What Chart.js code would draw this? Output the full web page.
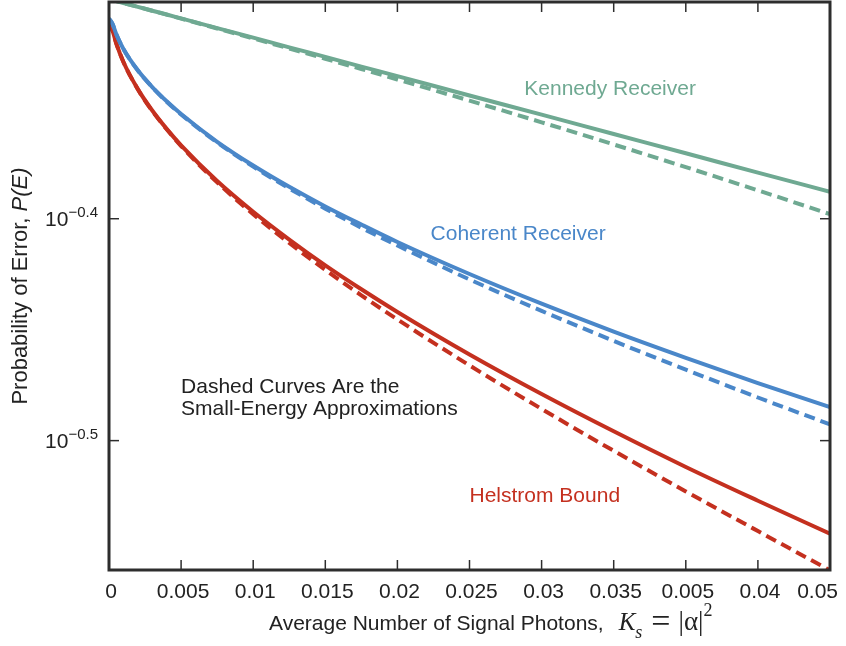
<!DOCTYPE html>
<html>
<head>
<meta charset="utf-8">
<script src="https://cdn.jsdelivr.net/npm/chart.js@4.4.1/dist/chart.umd.min.js"></script>
<style>
  body { margin: 0; background: #fff; }
  canvas { display: block; }
</style>
</head>
<body>
<canvas id="perr" width="846" height="646"></canvas>
<script>
// average photon number K_s
var kValues = [0, 0.00025, 0.0005, 0.001, 0.002, 0.003, 0.004, 0.005, 0.0075, 0.01, 0.0125,
  0.015, 0.0175, 0.02, 0.025, 0.03, 0.035, 0.04, 0.045, 0.05];

// probability of error
var helstromExact  = [0.488, 0.4838, 0.4777, 0.4684, 0.4554, 0.4454, 0.4370, 0.4296, 0.4140, 0.4010, 0.3896,
  0.3793, 0.3700, 0.3614, 0.3458, 0.3319, 0.3193, 0.3077, 0.2971, 0.2871];
var helstromApprox = [0.488, 0.4838, 0.4776, 0.4684, 0.4553, 0.4452, 0.4368, 0.4293, 0.4134, 0.4000, 0.3882,
  0.3775, 0.3677, 0.3586, 0.3419, 0.3268, 0.3129, 0.3000, 0.2879, 0.2764];
var coherentExact  = [0.490, 0.4872, 0.4822, 0.4748, 0.4644, 0.4564, 0.4497, 0.4438, 0.4312, 0.4207, 0.4115,
  0.4032, 0.3957, 0.3886, 0.3759, 0.3645, 0.3541, 0.3446, 0.3357, 0.3274];
var coherentApprox = [0.490, 0.4872, 0.4822, 0.4748, 0.4643, 0.4563, 0.4495, 0.4436, 0.4309, 0.4202, 0.4108,
  0.4023, 0.3944, 0.3872, 0.3738, 0.3618, 0.3507, 0.3404, 0.3307, 0.3216];
var kennedyExact   = [0.5, 0.4995, 0.4990, 0.4980, 0.4960, 0.4940, 0.4921, 0.4901, 0.4852, 0.4804, 0.4756,
  0.4709, 0.4662, 0.4616, 0.4524, 0.4435, 0.4347, 0.4261, 0.4176, 0.4094];
var kennedyApprox  = [0.5, 0.4995, 0.499, 0.498, 0.496, 0.494, 0.492, 0.49, 0.485, 0.48, 0.475,
  0.47, 0.465, 0.46, 0.45, 0.44, 0.43, 0.42, 0.41, 0.40];

// axis ticks (labels kept exactly as printed)
var xTickValues = [0, 0.005, 0.01, 0.015, 0.02, 0.025, 0.03, 0.035, 0.04, 0.045, 0.05];
var xTickLabels = ['0', '0.005', '0.01', '0.015', '0.02', '0.025', '0.03', '0.035', '0.005', '0.04', '0.05'];
var yTickValues = [Math.pow(10, -0.4), Math.pow(10, -0.5)];
var yTickExponents = ['\u22120.4', '\u22120.5'];

// curve labels: [text, x, y, colour]
var curveNotes = [
  ['Kennedy Receiver', 0.0288, 0.4553, '#6fa992'],
  ['Coherent Receiver', 0.0223, 0.3917, '#4a87c9'],
  ['Dashed Curves Are the', 0.005, 0.3343, '#222222'],
  ['Small-Energy Approximations', 0.005, 0.3268, '#222222'],
  ['Helstrom Bound', 0.0250, 0.2986, '#c4301f']
];

var SANS = '"Liberation Sans", Arial, Helvetica, sans-serif';
var SERIF = '"Liberation Serif", "Times New Roman", serif';
var INK = '#222222';

function pairs(ys)
{
  return kValues.map(function (k, i) { return {x: k, y: ys[i]}; });
}

function curve(label, ys, colour, dashed)
{
  return {
    label: label,
    data: pairs(ys),
    borderColor: colour,
    backgroundColor: colour,
    borderWidth: 4,
    borderDash: dashed ? [11, 6] : [],
    pointRadius: 0,
    cubicInterpolationMode: 'monotone',
    fill: false
  };
}

function line(ctx, x1, y1, x2, y2)
{
  ctx.beginPath();
  ctx.moveTo(x1, y1);
  ctx.lineTo(x2, y2);
  ctx.stroke();
}

var paperPlugin = {
  id: 'paper',
  afterDatasetsDraw: function (chart) {
    var ctx = chart.ctx, a = chart.chartArea;
    var xs = chart.scales.x, ys = chart.scales.y;
    ctx.save();

    // frame
    ctx.strokeStyle = '#2d2d2d';
    ctx.lineWidth = 3;
    ctx.strokeRect(a.left, a.top, a.right - a.left, a.bottom - a.top);

    // inward ticks
    ctx.lineWidth = 1.5;
    xTickValues.forEach(function (v) {
      var px = xs.getPixelForValue(v);
      line(ctx, px, a.bottom, px, a.bottom - 10);
      line(ctx, px, a.top, px, a.top + 10);
    });
    yTickValues.forEach(function (v) {
      var py = ys.getPixelForValue(v);
      line(ctx, a.left, py, a.left + 10, py);
      line(ctx, a.right, py, a.right - 10, py);
    });

    // x tick labels
    ctx.fillStyle = INK;
    ctx.font = '21px ' + SANS;
    ctx.textBaseline = 'alphabetic';
    ctx.textAlign = 'center';
    xTickValues.forEach(function (v, i) {
      var px = xs.getPixelForValue(v) + 2;
      var w = ctx.measureText(xTickLabels[i]).width;
      if (px + w / 2 > chart.width - 8) px = chart.width - 8 - w / 2;
      ctx.fillText(xTickLabels[i], px, a.bottom + 28);
    });

    // y tick labels 10^-x
    ctx.textAlign = 'left';
    yTickValues.forEach(function (v, i) {
      var py = ys.getPixelForValue(v);
      ctx.font = '15px ' + SANS;
      var sw = ctx.measureText(yTickExponents[i]).width;
      ctx.font = '21px ' + SANS;
      var bw = ctx.measureText('10').width;
      var x0 = a.left - 11 - sw - bw;
      ctx.fillText('10', x0, py + 7);
      ctx.font = '15px ' + SANS;
      ctx.fillText(yTickExponents[i], x0 + bw, py - 2);
    });

    // y axis title
    ctx.save();
    ctx.translate(21, (a.top + a.bottom) / 2);
    ctx.rotate(-Math.PI / 2);
    ctx.textBaseline = 'middle';
    ctx.font = '22px ' + SANS;
    var t1 = 'Probability of Error, ';
    var w1 = ctx.measureText(t1).width;
    ctx.font = 'italic 22px ' + SANS;
    var w2 = ctx.measureText('P(E)').width;
    var sx = -(w1 + w2) / 2;
    ctx.font = '22px ' + SANS;
    ctx.fillText(t1, sx, 0);
    ctx.font = 'italic 22px ' + SANS;
    ctx.fillText('P(E)', sx + w1, 0);
    ctx.restore();

    // x axis title with K_s = |alpha|^2  [text, font, dy, gap after]
    var parts = [
      ['Average Number of Signal Photons,', '21px ' + SANS, 0, 15],
      ['K', 'italic 25px ' + SERIF, 0, 0],
      ['s', 'italic 18px ' + SERIF, 8, 9],
      ['=', '34px ' + SERIF, 2, 8],
      ['|\u03b1|', '27px ' + SERIF, 0, 0],
      ['2', '18px ' + SERIF, -14, 0]
    ];
    var cx = 269;
    parts.forEach(function (p) {
      ctx.font = p[1];
      ctx.fillText(p[0], cx, 630 + p[2]);
      cx += ctx.measureText(p[0]).width + p[3];
    });

    // curve notes
    ctx.font = '21px ' + SANS;
    ctx.textBaseline = 'middle';
    curveNotes.forEach(function (n) {
      ctx.fillStyle = n[3];
      ctx.fillText(n[0], xs.getPixelForValue(n[1]), ys.getPixelForValue(n[2]));
    });

    ctx.restore();
  }
};

window.onload = function ()
{
  var ctx = document.getElementById('perr').getContext('2d');
  new Chart(ctx, {
    type: 'line',
    data: {
      datasets: [
        curve('Kennedy Receiver', kennedyExact, '#6fa992', false),
        curve('Kennedy approx', kennedyApprox, '#6fa992', true),
        curve('Coherent Receiver', coherentExact, '#4a87c9', false),
        curve('Coherent approx', coherentApprox, '#4a87c9', true),
        curve('Helstrom Bound', helstromExact, '#c4301f', false),
        curve('Helstrom approx', helstromApprox, '#c4301f', true)
      ]
    },
    options: {
      responsive: false,
      animation: false,
      layout: { padding: { left: 0, top: 2, right: 16, bottom: 0 } },
      plugins: { legend: { display: false }, tooltip: { enabled: false } },
      scales: {
        x: {
          type: 'linear',
          min: 0,
          max: 0.05,
          grid: { display: false },
          border: { display: false },
          ticks: { display: false },
          afterBuildTicks: function (s) { s.ticks = xTickValues.map(function (v) { return {value: v}; }); },
          afterFit: function (s) { s.height = 76; }
        },
        y: {
          type: 'logarithmic',
          min: 0.2765,
          max: 0.4985,
          grid: { display: false },
          border: { display: false },
          ticks: { display: false },
          afterBuildTicks: function (s) { s.ticks = yTickValues.map(function (v) { return {value: v}; }); },
          afterFit: function (s) { s.width = 109; }
        }
      }
    },
    plugins: [paperPlugin]
  });
}
</script>
</body>
</html>
